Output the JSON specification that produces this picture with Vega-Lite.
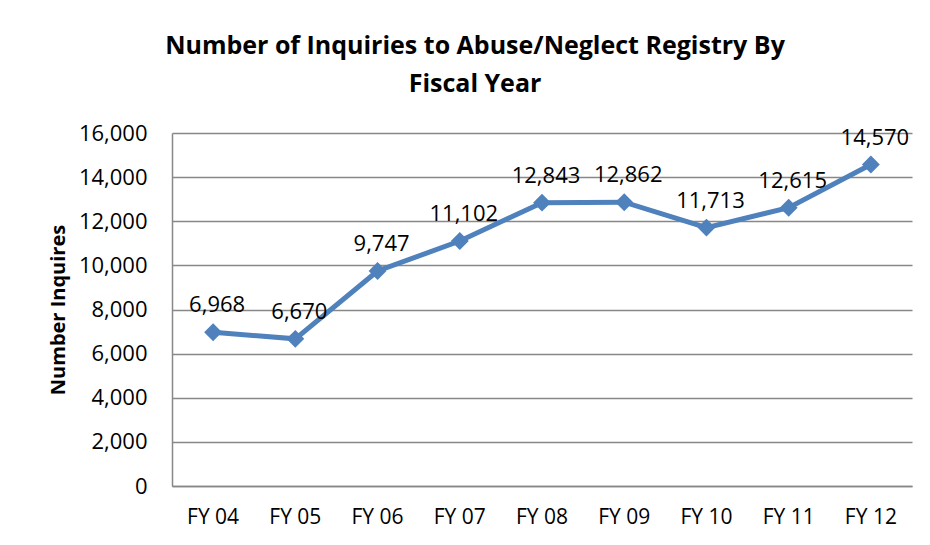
{
  "$schema": "https://vega.github.io/schema/vega-lite/v6.json",
  "width": 740,
  "height": 353,
  "autosize": {"type": "none"},
  "padding": {"left": 172, "top": 133, "right": 18, "bottom": 59},
  "background": "white",
  "data": {
    "values": [
      {"year": "FY 04", "inquiries": 6968},
      {"year": "FY 05", "inquiries": 6670},
      {"year": "FY 06", "inquiries": 9747},
      {"year": "FY 07", "inquiries": 11102},
      {"year": "FY 08", "inquiries": 12843},
      {"year": "FY 09", "inquiries": 12862},
      {"year": "FY 10", "inquiries": 11713},
      {"year": "FY 11", "inquiries": 12615},
      {"year": "FY 12", "inquiries": 14570}
    ]
  },
  "title": {
    "text": ["Number of Inquiries to Abuse/Neglect Registry By", "Fiscal Year"],
    "anchor": "middle",
    "dx": -67,
    "offset": 25,
    "font": "Open Sans",
    "fontSize": 25,
    "fontWeight": "bold",
    "lineHeight": 38,
    "color": "black"
  },
  "encoding": {
    "x": {
      "field": "year",
      "type": "ordinal",
      "scale": {"type": "band", "paddingInner": 0, "paddingOuter": 0},
      "axis": {
        "title": null,
        "labelAngle": 0,
        "labelFont": "Open Sans",
        "labelFontSize": 21,
        "labelColor": "black",
        "labelPadding": 20,
        "ticks": false,
        "domainColor": "#888888",
        "domainWidth": 1.5,
        "grid": false
      }
    },
    "y": {
      "field": "inquiries",
      "type": "quantitative",
      "scale": {"domain": [0, 16000], "nice": false},
      "axis": {
        "title": "Number Inquires",
        "titleFont": "Open Sans",
        "titleFontSize": 20,
        "titleFontWeight": "bold",
        "titleColor": "black",
        "titlePadding": 10,
        "values": [0, 2000, 4000, 6000, 8000, 10000, 12000, 14000, 16000],
        "format": ",d",
        "labelFont": "Open Sans",
        "labelFontSize": 22,
        "labelColor": "black",
        "labelPadding": 25,
        "ticks": false,
        "domainColor": "#888888",
        "domainWidth": 1.5,
        "gridColor": "#888888",
        "gridWidth": 1.5
      }
    }
  },
  "layer": [
    {
      "mark": {"type": "line", "color": "#4F81BD", "strokeWidth": 5, "point": {"shape": "diamond", "size": 320, "filled": true, "color": "#4F81BD", "opacity": 1}}
    },
    {
      "mark": {"type": "text", "dy": -27, "dx": 4, "font": "Open Sans", "fontSize": 22, "color": "black"},
      "encoding": {"text": {"field": "inquiries", "type": "quantitative", "format": ",d"}}
    }
  ],
  "config": {"view": {"stroke": null}}
}
